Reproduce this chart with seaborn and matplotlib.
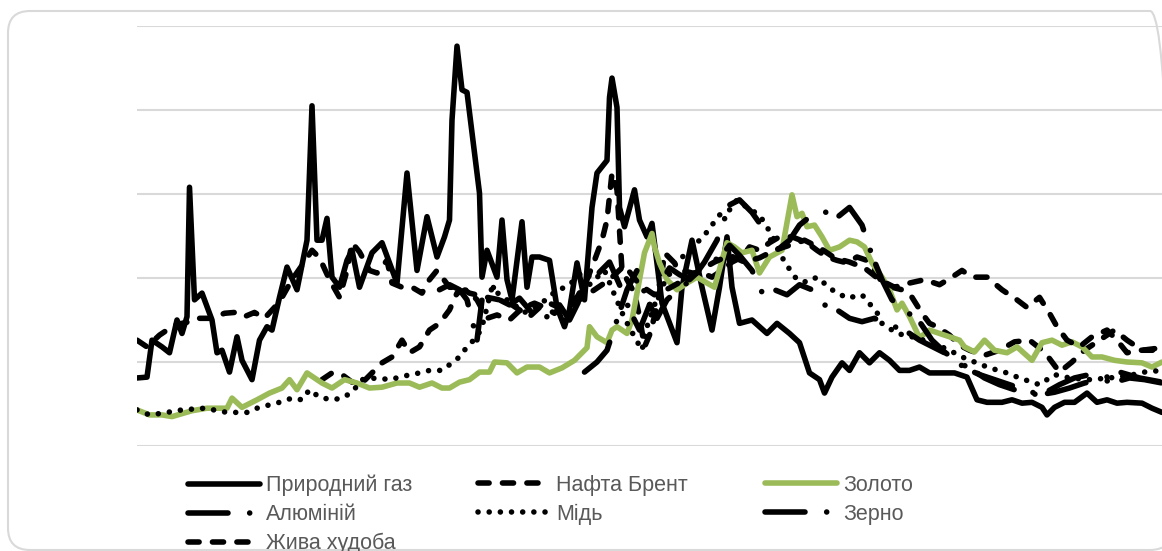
import matplotlib
matplotlib.use('Agg')
import matplotlib.pyplot as plt
from matplotlib.patches import FancyBboxPatch
from matplotlib.transforms import IdentityTransform
import seaborn as sns

# місячний індекс (0..410) і значення індексу цін (шкала 0..500)
gas_t = [0, 4, 6, 10, 13, 16, 18, 20, 21, 23, 26, 30, 32, 34, 37, 40, 42, 46, 49, 52, 54, 57, 60, 64, 68, 70, 72, 74, 76, 78,
         81, 84, 86, 89, 94, 98, 104, 108, 112, 116, 120, 123, 125, 126, 128, 130, 132, 137, 138, 140, 144, 146, 148, 150,
         154, 156, 158, 161, 165, 168, 171, 173, 176, 179, 182, 184, 188, 189, 190, 192, 193, 195, 199, 201, 204, 206, 210,
         216, 218, 222, 226, 230, 233, 236, 238, 241, 246, 252, 256, 261, 265, 269, 273, 275, 278, 282, 285, 289, 293, 297,
         301, 305, 309, 313, 317, 321, 327, 332, 336, 340, 346, 350, 354, 358, 362, 364, 367, 371, 375, 380, 384, 388, 392,
         396, 402, 406, 410]
gas_v = [81, 82, 126, 118, 111, 150, 134, 154, 308, 174, 182, 150, 111, 114, 88, 130, 102, 79, 126, 142, 138, 177, 213, 186,
         245, 405, 245, 245, 271, 201, 189, 221, 233, 189, 230, 242, 194, 325, 209, 273, 225, 249, 269, 388, 476, 424, 421,
         301, 201, 233, 201, 269, 198, 174, 267, 189, 225, 225, 221, 165, 142, 162, 218, 174, 284, 325, 340, 415, 438, 403,
         284, 261, 305, 269, 249, 265, 170, 123, 189, 245, 189, 138, 189, 249, 189, 146, 150, 134, 146, 134, 123, 87, 79, 63,
         82, 99, 90, 111, 99, 111, 102, 90, 90, 94, 87, 87, 87, 82, 55, 52, 52, 55, 51, 52, 46, 37, 46, 52, 52, 63, 52, 55,
         51, 52, 51, 45, 40]

brent_t = [74, 78, 82, 86, 90, 94, 98, 102, 106, 109, 113, 117, 121, 125, 128, 132, 136, 140, 144, 149, 154, 159, 163, 167,
           171, 176, 180, 183, 186, 188, 190, 192, 194, 196, 199, 201, 203, 205, 207, 209, 211, 214, 218, 222, 226, 230, 234,
           238, 242, 245, 249, 253, 257, 262, 268, 272, 276, 280, 284, 288, 292, 296, 298, 302, 306, 310, 314, 317, 320, 325,
           329, 333, 339, 345, 351, 357, 363, 369, 374, 379, 385, 391, 396, 402, 410]
brent_v = [79, 87, 85, 76, 75, 87, 99, 106, 126, 111, 118, 138, 146, 162, 182, 186, 174, 152, 156, 150, 164, 170, 165, 158,
           170, 177, 198, 221, 245, 269, 325, 305, 209, 198, 182, 154, 118, 132, 154, 182, 230, 221, 209, 206, 206, 201, 209,
           219, 225, 237, 233, 242, 249, 249, 242, 233, 225, 221, 218, 225, 221, 206, 194, 189, 186, 177, 158, 146, 142, 132,
           120, 114, 108, 114, 124, 126, 112, 88, 100, 114, 126, 138, 126, 114, 117]

gold_t = [0, 5, 10, 14, 22, 28, 36, 38, 42, 48, 53, 58, 61, 64, 68, 74, 78, 83, 88, 93, 98, 104, 109, 113, 118, 122, 125, 129,
          133, 137, 141, 143, 148, 152, 156, 161, 165, 170, 175, 180, 181, 184, 188, 190, 192, 196, 198, 200, 203, 206, 207,
          209, 212, 216, 220, 224, 228, 231, 234, 236, 239, 242, 246, 249, 253, 258, 262, 264, 266, 268, 271, 274, 277, 281,
          285, 288, 291, 294, 298, 301, 304, 306, 309, 313, 317, 321, 325, 329, 331, 335, 339, 343, 348, 352, 358, 362, 366,
          370, 374, 378, 382, 386, 391, 396, 402, 406, 410]
gold_v = [43, 37, 37, 35, 42, 45, 45, 57, 46, 55, 63, 69, 79, 67, 87, 75, 69, 79, 75, 69, 70, 75, 75, 70, 75, 69, 69, 76,
          79, 88, 88, 100, 99, 87, 94, 94, 87, 93, 102, 117, 142, 130, 123, 138, 142, 134, 150, 182, 230, 253, 237, 218, 198,
          186, 194, 201, 194, 189, 221, 242, 237, 230, 233, 206, 225, 233, 299, 273, 277, 261, 263, 249, 233, 237, 245, 243,
          237, 218, 201, 186, 162, 170, 154, 129, 138, 134, 130, 126, 118, 112, 126, 114, 111, 118, 102, 123, 126, 120, 124,
          118, 106, 106, 102, 100, 99, 94, 100]

alu_t = [121, 125, 129, 132, 136, 138, 142, 145, 149, 153, 157, 161, 165, 169, 173, 177, 181, 185, 189, 193, 197, 201, 205,
         209, 213, 217, 221, 225, 230, 234, 237, 241, 246, 250, 255, 260, 265, 270, 275, 280, 285, 290, 295, 301, 307, 313,
         319, 325, 331, 337, 343, 349, 355, 361, 367, 373, 379, 385, 391, 397, 403, 410]
alu_v = [186, 192, 186, 174, 126, 174, 192, 174, 168, 176, 162, 148, 156, 168, 150, 174, 192, 207, 219, 192, 162, 138, 168,
         192, 212, 204, 198, 209, 219, 227, 239, 227, 209, 183, 186, 180, 192, 186, 168, 162, 152, 148, 152, 144, 138, 126,
         117, 108, 93, 85, 79, 73, 67, 61, 64, 69, 75, 79, 76, 81, 79, 75]

copper_t = [0, 5, 10, 18, 27, 36, 44, 48, 53, 57, 62, 66, 69, 73, 78, 82, 86, 90, 96, 101, 108, 113, 117, 122, 126, 129, 132,
            136, 138, 140, 142, 145, 150, 155, 161, 167, 173, 178, 183, 187, 191, 195, 199, 202, 204, 207, 211, 216, 221,
            227, 233, 237, 240, 244, 249, 254, 259, 264, 268, 272, 278, 284, 290, 296, 298, 304, 310, 318, 325, 330, 335,
            341, 347, 353, 361, 367, 373, 381, 389, 397, 403, 410]
copper_v = [43, 37, 39, 43, 45, 40, 40, 45, 49, 52, 57, 55, 67, 58, 55, 57, 64, 79, 81, 79, 84, 87, 90, 90, 99, 106, 118,
            130, 142, 165, 189, 180, 170, 159, 168, 183, 192, 207, 198, 209, 180, 152, 130, 114, 142, 168, 195, 219, 233,
            251, 275, 281, 293, 284, 275, 251, 219, 198, 195, 201, 186, 176, 180, 159, 146, 134, 130, 123, 114, 106, 100,
            93, 88, 81, 73, 85, 81, 79, 81, 84, 88, 90]

grain_t = [179, 184, 188, 192, 196, 200, 204, 208, 212, 217, 222, 227, 232, 237, 241, 246, 251, 256, 261, 265, 270, 275, 280,
           285, 290, 294, 298, 302, 307, 313, 318, 323, 328, 333, 339, 345, 351, 357, 363, 369, 375, 381, 387, 393, 401, 410]
grain_v = [88, 100, 114, 150, 186, 209, 174, 152, 174, 188, 198, 219, 245, 287, 293, 278, 257, 233, 245, 263, 275, 279, 272,
           284, 263, 227, 198, 174, 162, 148, 126, 112, 100, 93, 81, 73, 67, 61, 63, 73, 81, 85, 81, 88, 81, 76]

cattle_t = [0, 4, 9, 15, 21, 25, 30, 35, 39, 43, 47, 51, 55, 58, 62, 66, 70, 73, 77, 81, 84, 86, 89, 93, 96, 100, 102, 106,
            110, 114, 117, 120, 125, 129, 133, 140, 145, 149, 153, 157, 161, 165, 171, 177, 183, 189, 195, 201, 207, 213,
            219, 225, 231, 237, 243, 249, 255, 261, 267, 273, 279, 285, 291, 297, 303, 309, 315, 321, 326, 330, 334, 340,
            346, 352, 356, 361, 365, 368, 372, 377, 382, 388, 392, 396, 401, 410]
cattle_v = [126, 118, 132, 144, 148, 152, 152, 158, 159, 154, 159, 152, 165, 177, 198, 215, 233, 224, 198, 177, 209, 242,
            231, 209, 206, 221, 194, 189, 189, 182, 198, 209, 189, 189, 182, 177, 174, 170, 162, 154, 165, 170, 162, 174,
            186, 198, 215, 192, 180, 188, 198, 209, 219, 227, 219, 224, 233, 239, 245, 236, 224, 219, 212, 198, 189, 194,
            198, 192, 201, 209, 201, 201, 186, 174, 165, 177, 158, 142, 126, 118, 130, 138, 126, 111, 114, 114]

names = ['Природний газ', 'Нафта Брент', 'Золото', 'Алюміній', 'Мідь', 'Зерно', 'Жива худоба']

sns.set_theme(style='white')
plt.rcParams['font.family'] = ['Liberation Sans', 'DejaVu Sans']

W, H = 1162, 551
fig = plt.figure(figsize=(W / 100, H / 100), dpi=100)
ax = fig.add_axes([137 / W, 105 / H, 1025 / W, 420 / H])

# рамка з заокругленими кутами (права сторона трохи за краєм)
frame = FancyBboxPatch((8, 1), 1164, 539, boxstyle='round,pad=0,rounding_size=22',
                       transform=IdentityTransform(), fill=False, edgecolor='#d9d9d9', linewidth=1.5)
fig.patches.append(frame)

lw = 4.0
dash = (0, (2.0, 2.4))
dot = (0, (0.01, 2.0))
dashdot = (0, (7.2, 3.9, 0.01, 2.7))
series = [
    (gas_t, gas_v, 'black', '-'),
    (brent_t, brent_v, 'black', dash),
    (gold_t, gold_v, '#9BBB59', '-'),
    (alu_t, alu_v, 'black', dashdot),
    (copper_t, copper_v, 'black', dot),
    (grain_t, grain_v, 'black', dashdot),
    (cattle_t, cattle_v, 'black', dash),
]

lines = []
for (t, v, c, ls), nm in zip(series, names):
    sns.lineplot(x=t, y=v, ax=ax, color=c, linewidth=lw, linestyle=ls,
                 estimator=None, errorbar=None, sort=False, legend=False)
    ln = ax.lines[-1]
    ln.set_label(nm)
    ln.set_dash_capstyle('round')
    ln.set_solid_capstyle('round')
    ln.set_solid_joinstyle('round')
    ln.set_dash_joinstyle('round')
    lines.append(ln)

ax.set_xlim(0, 410)
ax.set_ylim(0, 500)
ax.set_yticks(range(0, 501, 100))
ax.set_xticks([])
ax.yaxis.grid(True, color='#d9d9d9', linewidth=1.5)
ax.set_axisbelow(True)
ax.tick_params(left=False, labelleft=False, bottom=False, labelbottom=False)
ax.set_xlabel('')
ax.set_ylabel('')
sns.despine(ax=ax, left=True, bottom=True)

# легенда: три колонки, як у вихідному рисунку
cols = [([0, 3, 6], 188), ([1, 4], 478), ([2, 5], 765)]
for idx, xpix in cols:
    fig.legend([lines[i] for i in idx], [names[i] for i in idx],
               loc='upper left', bbox_to_anchor=(xpix / W, 1 - 475 / H),
               frameon=False, fontsize=15.5, handlelength=3.35, handletextpad=0.28,
               borderpad=0, borderaxespad=0, labelspacing=0.36, labelcolor='#595959')

fig.savefig('out.png', dpi=100)
